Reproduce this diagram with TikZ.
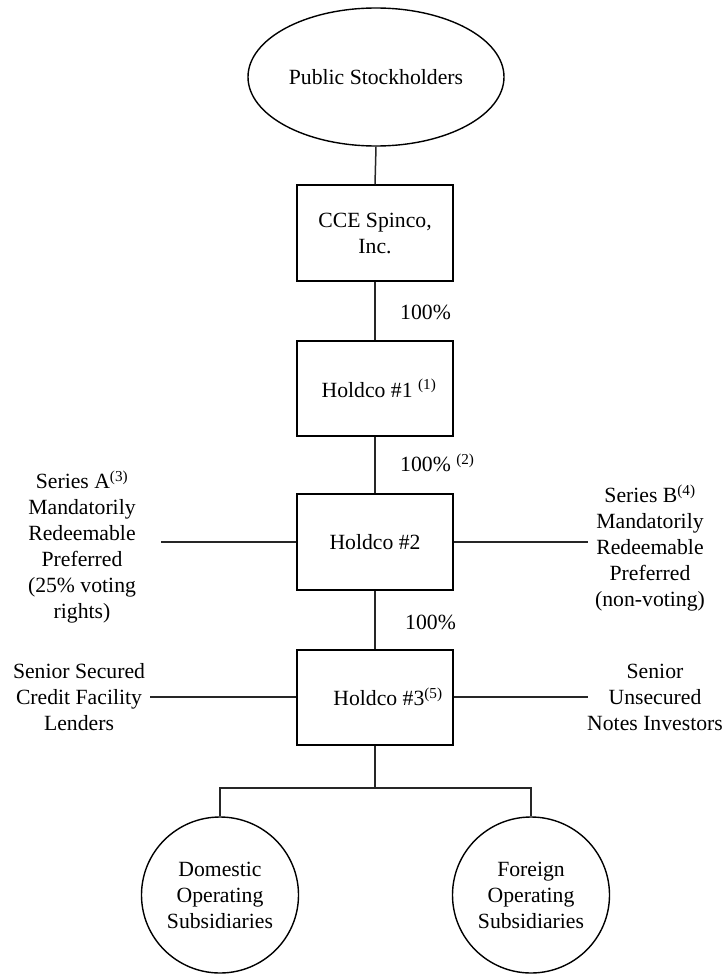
\documentclass[tikz,border=0pt]{standalone}
\usepackage{fontspec}
\setmainfont{Liberation Serif}
\usetikzlibrary{shapes.geometric}
\begin{document}
\begin{tikzpicture}[x=1pt,y=-1pt,
  every node/.style={font=\fontsize{21.7}{26}\selectfont, inner sep=0pt},
  box/.style={draw, line width=1.5pt, minimum width=156pt, minimum height=95pt, align=center},
  oval/.style={draw, line width=1.4pt, ellipse, align=center},
  lbl/.style={align=center},
  conn/.style={line width=1.5pt, draw=black!85}]
\useasboundingbox (0,0) rectangle (725,974);

\node[oval, minimum width=256pt, minimum height=138pt] (ps) at (376,77) {Public Stockholders};
\node[box, minimum height=96pt] (cce) at (375,233) {CCE Spinco,\\Inc.};
\node[box] (h1) at (375,388.5) {};
\node at (379,388.5) (h1t) {Holdco \#1 \textsuperscript{(1)}};
\node[box, minimum height=96pt] (h2) at (375,542) {Holdco \#2};
\node[box] (h3) at (375,697.5) {};
\node at (388,697) (h3t) {Holdco \#3\textsuperscript{(5)}};

\node[oval, minimum width=157pt, minimum height=156pt] (dom) at (220,895) {Domestic\\Operating\\Subsidiaries};
\node[oval, minimum width=157pt, minimum height=156pt] (for) at (531,895) {Foreign\\Operating\\Subsidiaries};

\node[lbl] (sa) at (82,547) {Series A\textsuperscript{(3)}\\Mandatorily\\Redeemable\\Preferred\\(25\% voting\\rights)};
\node[lbl] (sb) at (650,548) {Series B\textsuperscript{(4)}\\Mandatorily\\Redeemable\\Preferred\\(non-voting)};
\node[lbl] (ssc) at (79,697) {Senior Secured\\Credit Facility\\Lenders};
\node[lbl] (sun) at (655,697) {Senior\\Unsecured\\Notes Investors};

\node[anchor=west] (p1) at (400,312) {100\%};
\node[anchor=west] (p2) at (400,463) {100\% \textsuperscript{(2)}};
\node[anchor=west] (p3) at (405,622) {100\%};

\coordinate (saL) at (161,542);
\coordinate (sbR) at (588,542);
\coordinate (sscL) at (150,697);
\coordinate (sunR) at (588,697);
\coordinate (j) at (375,788);

\draw[conn] (ps.south) -- (cce.north);
\draw[conn] (cce.south) -- (h1.north);
\draw[conn] (h1.south) -- (h2.north);
\draw[conn] (h2.south) -- (h3.north);
\draw[conn] (h2.west) -- (saL);
\draw[conn] (h2.east) -- (sbR);
\draw[conn] (h3.west |- sscL) -- (sscL);
\draw[conn] (h3.east |- sunR) -- (sunR);
\draw[conn] (h3.south) -- (j);
\draw[conn] (dom.north) |- (j) -| (for.north);
\end{tikzpicture}
\end{document}
